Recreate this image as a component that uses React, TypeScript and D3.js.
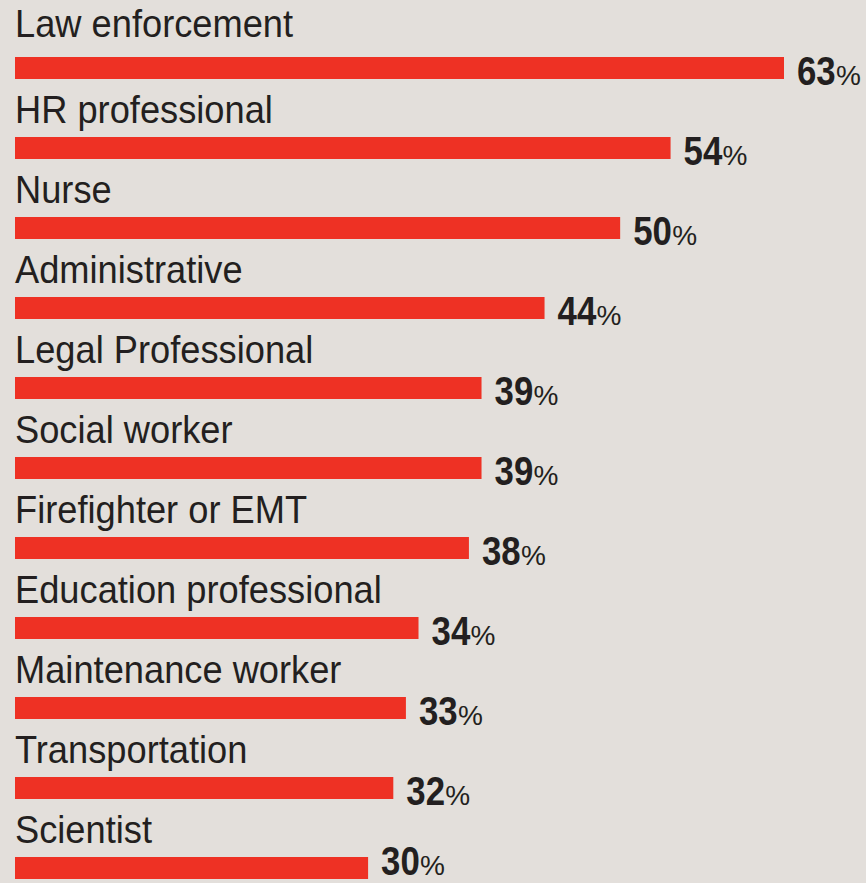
import React from "react";
import * as d3 from "d3";

const categories = [
  "Law enforcement",
  "HR professional",
  "Nurse",
  "Administrative",
  "Legal Professional",
  "Social worker",
  "Firefighter or EMT",
  "Education professional",
  "Maintenance worker",
  "Transportation",
  "Scientist",
];
const values = [63, 54, 50, 44, 39, 39, 38, 34, 33, 32, 30];

const W = 866;
const H = 883;
const BG = "#e3dfdb";
const RED = "#ee3124";
const INK = "#231f20";
const FONT = "'Liberation Sans', Arial, Helvetica, sans-serif";

export default function App() {
  const left = 15;
  const x = d3.scaleLinear().domain([0, 63]).range([-10, 784]);
  const y = d3.scaleBand().domain(categories).range([57, 937]).paddingInner(0).paddingOuter(0);
  const barH = 22;
  return (
    <svg
      width={W}
      height={H}
      style={{ position: "absolute", left: 0, top: 0, display: "block", background: BG }}
    >
      <rect x={0} y={0} width={W} height={H} fill={BG} />
      {categories.map((c, i) => {
        const top = y(c) as number;
        const v = values[i];
        const labelY = i === 0 ? top - 20 : top - 14;
        const numY = Math.min(top + barH + 6, H - 8);
        return (
          <g key={c}>
            <text
              transform={`translate(${left},${labelY}) scale(0.93,1)`}
              fontFamily={FONT}
              fontSize={39}
              fill={INK}
            >
              {c}
            </text>
            <rect x={left} y={top} width={x(v) - left} height={barH} fill={RED} />
            <g transform={`translate(${x(v) + 13},${numY})`}>
              <text transform="scale(0.86,1)" fontFamily={FONT} fill={INK} fontSize={40.5} fontWeight="bold">
                {v}
              </text>
              <text x={39} fontFamily={FONT} fill={INK} fontSize={28}>
                %
              </text>
            </g>
          </g>
        );
      })}
    </svg>
  );
}
